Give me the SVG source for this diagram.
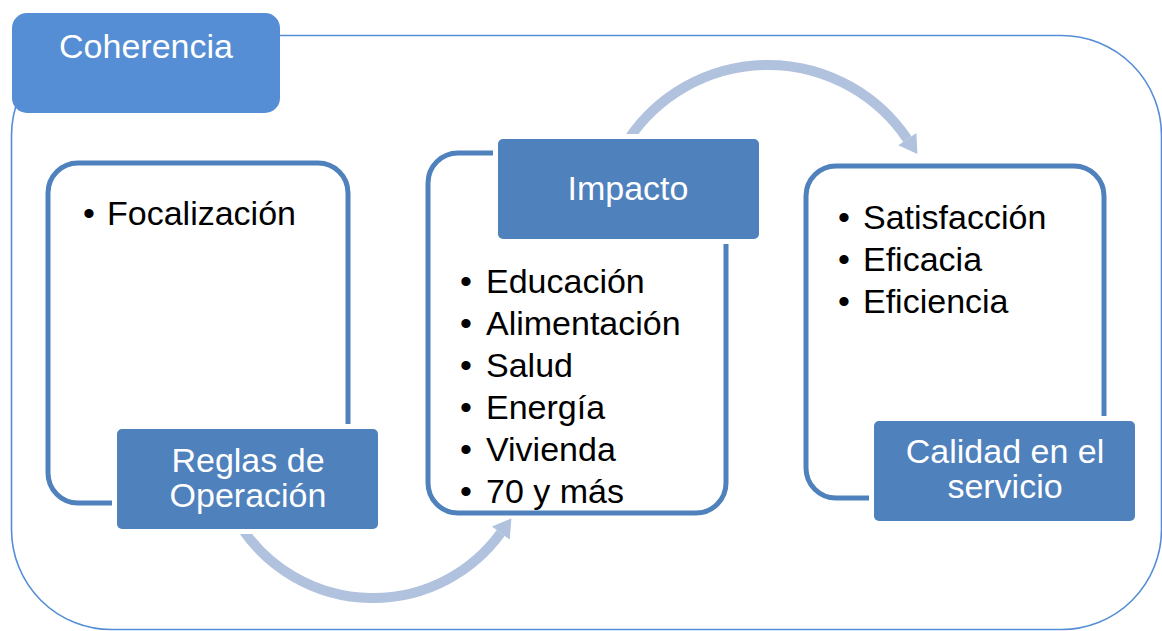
<svg xmlns="http://www.w3.org/2000/svg" width="1162" height="631" viewBox="0 0 1162 631">
<style>
.frame{fill:none;stroke:#558ED5;stroke-width:1.6}
.outline{fill:#fff;stroke:#4F81BD;stroke-width:5}
.halo{fill:#fff}
.node{fill:#4F81BD}
.txt{font-family:"Liberation Sans",Arial,sans-serif;font-size:34px}
.w{fill:#fff}
.k{fill:#000}
.arc{fill:none;stroke:#B0C2DE;stroke-width:10}
.head{fill:#B0C2DE}
</style>
<rect width="1162" height="631" fill="#fff"/>
<g id="frame">
<rect class="frame" x="11.5" y="35.5" width="1150" height="594" rx="100" ry="100"/>
</g>
<g id="connectors">
<path class="arc" d="M242,528.4 A158,158 0 0 0 500.8,532.9"/>
<polygon class="head" points="511.4,518.3 509.7,539.4 491.9,526.4"/>
<path class="arc" d="M628.7,139 A168,168 0 0 1 907.3,139.1"/>
<polygon class="head" points="917.4,154 916.4,133 898.2,145.2"/>
</g>
<g id="coherencia">
<rect x="12" y="13" width="268" height="100" rx="15" fill="#558ED5"/>
<text class="txt w" x="146" y="58" text-anchor="middle">Coherencia</text>
</g>
<g id="box1">
<rect class="outline" x="48" y="163" width="300" height="340" rx="30"/>
<text class="txt k" x="83" y="225">•</text>
<text class="txt k" x="107" y="225">Focalización</text>
</g>
<g id="reglas">
<rect class="halo" x="112" y="424" width="271" height="110" rx="8"/>
<rect class="node" x="117" y="429" width="261" height="100" rx="5"/>
<text class="txt w" text-anchor="middle"><tspan x="248" y="472">Reglas de</tspan><tspan x="248" y="507">Operación</tspan></text>
</g>
<g id="box2">
<rect class="outline" x="428" y="153" width="298" height="360" rx="30"/>
<g class="txt k">
<text x="460" y="293">•</text><text x="486" y="293">Educación</text>
<text x="460" y="335">•</text><text x="486" y="335">Alimentación</text>
<text x="460" y="377">•</text><text x="486" y="377">Salud</text>
<text x="460" y="419">•</text><text x="486" y="419">Energía</text>
<text x="460" y="461">•</text><text x="486" y="461">Vivienda</text>
<text x="460" y="503">•</text><text x="486" y="503">70 y más</text>
</g>
</g>
<g id="impacto">
<rect class="halo" x="493" y="134" width="271" height="110" rx="8"/>
<rect class="node" x="498" y="139" width="261" height="100" rx="5"/>
<text class="txt w" x="628" y="200" text-anchor="middle">Impacto</text>
</g>
<g id="box3">
<rect class="outline" x="806" y="166" width="298" height="332" rx="30"/>
<g class="txt k">
<text x="838" y="229">•</text><text x="863" y="229">Satisfacción</text>
<text x="838" y="271">•</text><text x="863" y="271">Eficacia</text>
<text x="838" y="313">•</text><text x="863" y="313">Eficiencia</text>
</g>
</g>
<g id="calidad">
<rect class="halo" x="869" y="416" width="271" height="110" rx="8"/>
<rect class="node" x="874" y="421" width="261" height="100" rx="5"/>
<text class="txt w" text-anchor="middle"><tspan x="1005" y="463">Calidad en el</tspan><tspan x="1005" y="498">servicio</tspan></text>
</g>
</svg>
